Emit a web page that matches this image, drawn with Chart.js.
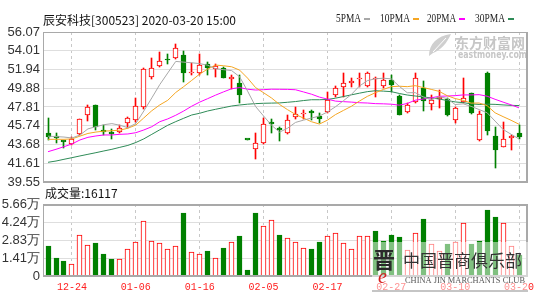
<!DOCTYPE html>
<html>
<head>
<meta charset="utf-8">
<script src="https://cdn.jsdelivr.net/npm/chart.js@4.4.1/dist/chart.umd.min.js"></script>
<style>
html,body{margin:0;padding:0;background:#fff;}
#wrap{position:relative;width:539px;height:303px;overflow:hidden;background:#fff;}
#wrap canvas{position:absolute;left:0;top:0;}
</style>
</head>
<body>
<div id="wrap">
<canvas id="priceCanvas" width="539" height="303"></canvas>
<canvas id="volCanvas" width="539" height="303"></canvas>
</div>
<script>
const titleText = '辰安科技[300523] 2020-03-20 15:00';
const dates = ['12-19','12-20','12-23','12-24','12-25','12-26','12-27','12-30','12-31','01-02','01-03','01-06','01-07','01-08','01-09','01-10','01-13','01-14','01-15','01-16','01-17','01-20','01-21','01-22','01-23','02-03','02-04','02-05','02-06','02-07','02-10','02-11','02-12','02-13','02-14','02-17','02-18','02-19','02-20','02-21','02-24','02-25','02-26','02-27','02-28','03-02','03-03','03-04','03-05','03-06','03-09','03-10','03-11','03-12','03-13','03-16','03-17','03-18','03-19','03-20'];
const opens  = [45.00,44.60,44.05,43.74,44.84,46.93,48.05,45.20,44.98,45.09,46.09,46.38,47.78,51.15,52.33,53.05,53.17,53.54,51.52,51.52,52.55,51.96,52.07,50.85,50.42,44.22,43.15,43.81,46.10,45.45,44.91,46.67,47.00,47.40,46.82,47.30,49.13,49.98,50.48,50.86,50.12,50.85,50.12,50.78,49.00,47.29,48.40,49.87,48.14,48.70,48.69,46.38,48.40,49.31,44.18,51.59,44.62,43.44,44.40,44.91];
const highs  = [46.62,44.91,44.08,44.47,46.52,48.03,48.08,45.83,45.35,45.83,46.74,48.77,52.07,53.17,53.90,53.70,54.75,54.01,52.62,53.61,52.80,52.55,52.25,51.33,51.33,44.22,44.98,46.57,46.46,45.64,46.93,47.85,47.48,47.48,47.12,49.50,50.12,51.52,50.97,51.52,51.70,51.15,51.59,51.33,49.10,48.22,51.52,50.71,49.13,49.68,48.77,47.85,50.97,49.39,47.40,51.70,45.64,46.19,44.73,45.83];
const lows   = [44.18,43.81,43.30,43.63,44.73,46.30,45.30,44.73,44.29,44.98,45.47,46.19,47.56,50.86,52.25,52.50,53.10,50.60,51.33,51.33,51.33,51.15,50.97,49.76,48.28,44.22,42.05,43.74,44.90,44.10,44.84,46.46,46.46,46.38,46.09,47.12,48.95,48.95,50.05,50.05,50.05,48.95,49.87,49.50,46.90,47.18,48.22,47.40,47.48,47.67,46.82,46.09,48.22,47.04,44.10,44.73,41.06,43.37,43.07,44.25];
const closes = [44.47,44.45,43.97,44.25,46.46,47.85,45.65,45.10,44.85,45.53,46.57,47.92,51.96,52.07,52.88,52.95,54.27,51.59,51.70,52.44,52.07,52.33,51.05,51.10,49.13,44.22,43.80,45.91,45.95,45.30,46.38,47.00,47.15,47.10,46.46,48.58,49.87,50.49,50.55,51.04,51.59,50.92,50.78,50.23,46.95,48.03,50.97,48.45,48.55,48.80,46.93,47.67,48.84,47.18,47.04,45.17,43.07,44.25,44.50,44.47];
const prevClose0 = 45.00;
const volumes = [23250,14500,11400,9300,32300,24000,25800,17600,13700,13200,21500,26600,43400,27900,25800,20900,23250,49400,18600,17600,19400,14500,21700,26400,31200,4650,49800,39500,43900,32300,29700,27100,22200,20900,26400,31200,33900,25800,21500,31200,31200,35700,27900,32300,30500,20700,33900,45200,24800,19400,24800,27100,41600,24800,27900,52200,46000,41600,23250,16117];
const ma5  = [44.60,44.55,44.50,44.40,44.72,45.40,45.64,45.86,45.98,45.80,45.54,45.99,47.37,48.81,50.28,51.56,52.83,52.75,52.68,52.59,52.41,52.03,51.92,51.82,51.14,49.56,47.86,46.82,45.80,45.04,45.47,46.11,46.36,46.59,46.82,47.26,47.83,48.50,49.19,50.11,50.71,50.92,50.98,50.91,50.09,49.38,49.39,48.93,48.59,48.96,48.74,48.08,48.16,47.88,47.53,47.18,46.26,45.34,44.81,44.29];
const ma10 = [44.25,44.25,44.25,44.30,44.60,44.90,45.05,45.15,45.20,45.26,45.47,45.82,46.61,47.40,48.04,48.55,49.41,50.06,50.74,51.44,51.99,52.43,52.35,52.24,51.87,50.99,49.95,49.38,48.80,48.09,47.52,46.99,46.59,46.19,45.93,46.36,46.97,47.43,47.89,48.46,48.98,49.38,49.74,50.05,50.10,50.05,50.16,49.95,49.75,49.53,49.06,48.74,48.54,48.24,48.25,47.96,47.17,46.75,46.35,45.91];
const ma20 = [42.89,43.15,43.44,43.74,44.18,44.47,44.62,44.73,44.73,44.80,44.84,44.98,45.28,45.64,46.19,46.50,46.90,47.37,47.90,48.35,48.73,49.12,49.48,49.82,49.95,49.77,49.68,49.72,49.77,49.76,49.75,49.71,49.47,49.22,48.90,48.68,48.46,48.40,48.35,48.28,48.25,48.18,48.16,48.12,48.01,48.20,48.56,48.69,48.82,48.99,49.02,49.06,49.14,49.14,49.17,49.00,48.66,48.35,48.05,47.72];
const ma30 = [41.72,41.86,42.05,42.23,42.42,42.60,42.78,42.97,43.15,43.37,43.58,43.90,44.30,44.80,45.30,45.80,46.20,46.57,46.93,47.12,47.37,47.56,47.74,47.92,48.03,48.12,48.18,48.22,48.24,48.26,48.33,48.41,48.52,48.61,48.61,48.64,48.78,48.96,49.15,49.33,49.50,49.60,49.56,49.50,49.30,49.13,49.02,48.92,48.81,48.69,48.52,48.37,48.29,48.16,48.09,48.12,48.10,48.04,47.99,47.97];
const maNames = ['5PMA','10PMA','20PMA','30PMA'];
const priceTicks = [39.55,41.61,43.68,45.74,47.81,49.88,51.94,54.01,56.07];
const volTicks = [0,14150,28300,42450,56600];
const volTickLabels = ['0','1.41万','2.83万','4.24万','5.66万'];
const xTickLabels = ['12-24','01-06','01-16','02-05','02-17','02-27','03-10','03-20'];
const volLabel = '成交量';
const wmTop = ['东方财富网','eastmoney.com'];
const wmBottom = ['中国晋商俱乐部','CHINA JIN MARCHANTS CLUB'];

// ---------- rendering ----------
const RED = '#ff0000', GREEN = '#008000';
const maColors = ['#a8a8a8','#f5a623','#ff00ff','#2e8b57'];
const up = closes.map((c,i)=> c>opens[i] ? true : (c<opens[i] ? false : c >= (i ? closes[i-1] : prevClose0)));
const volUp = closes.map((c,i)=> c > (i ? closes[i-1] : prevClose0));
const xTickIdx = xTickLabels.map(l=>dates.indexOf(l));
const pts = arr => arr.map((v,i)=>({x:i,y:v}));

function xAxis(showLabels, h){
  return {
    type:'linear', min:-0.63, max:60.0, offset:false,
    afterBuildTicks: s => { s.ticks = xTickIdx.map(v=>({value:v})); },
    afterFit: s => { s.height = h; s.paddingLeft = 0; s.paddingRight = 0; },
    grid:{color:'#c8c8c8', drawTicks:false, offset:false, lineWidth:1},
    border:{display:false, dash:[3,3]},
    ticks:{display:showLabels, autoSkip:false, maxRotation:0, minRotation:0, padding:5,
      color:'#ff2020', font:{family:'Liberation Mono', size:10},
      callback: v => dates[Math.round(v)] || ''}
  };
}
function yAxis(ticksArr, fmt){
  return {
    type:'linear', min:ticksArr[0], max:ticksArr[ticksArr.length-1],
    afterBuildTicks: s => { s.ticks = ticksArr.map(v=>({value:v})); },
    afterFit: s => { s.width = 43; s.paddingTop = 0; s.paddingBottom = 0; },
    grid:{color:'#dedede', drawTicks:false},
    border:{display:false},
    ticks:{autoSkip:false, padding:3, color:'#333', font:{family:'Liberation Sans', size:13}, callback: fmt}
  };
}

// snap bar elements to the pixel grid so 1px borders stay crisp
const snapBars = {
  id:'snapBars',
  beforeDatasetsDraw(chart){
    chart.data.datasets.forEach((ds,di)=>{
      const meta = chart.getDatasetMeta(di);
      if (meta.type !== 'bar') return;
      meta.data.forEach(el=>{
        el.x = Math.floor(el.x) + 0.5;
        el.y = Math.round(el.y);
        el.base = Math.round(el.base);
        if (ds.minBarLength && el.y === el.base) el.base += 1;
      });
    });
  }
};

function frame(ctx, ca, topW, botW){
  ctx.save();
  ctx.strokeStyle = '#a9a9a9';
  ctx.lineWidth = 1;
  ctx.beginPath();
  ctx.moveTo(ca.left+0.5, ca.top); ctx.lineTo(ca.left+0.5, ca.bottom);
  ctx.stroke();
  ctx.lineWidth = topW;
  ctx.beginPath(); ctx.moveTo(ca.left, ca.top+topW/2); ctx.lineTo(ca.right+1, ca.top+topW/2); ctx.stroke();
  ctx.lineWidth = botW;
  ctx.beginPath(); ctx.moveTo(ca.left, ca.bottom); ctx.lineTo(ca.right+1, ca.bottom); ctx.stroke();
  ctx.lineWidth = 2;
  ctx.beginPath(); ctx.moveTo(ca.right, ca.top); ctx.lineTo(ca.right, ca.bottom+1); ctx.stroke();
  ctx.restore();
}

const priceDeco = {
  id:'priceDeco',
  beforeDatasetsDraw(chart){
    const ctx = chart.ctx; ctx.save();
    ctx.fillStyle = '#cfcfcf';
    ctx.beginPath();
    ctx.moveTo(429,56); ctx.bezierCurveTo(429,44,437,36,451,34); ctx.bezierCurveTo(447,43,441,50,433,53);
    ctx.lineTo(429,56); ctx.fill();
    ctx.strokeStyle = '#fff'; ctx.lineWidth = 1;
    ctx.beginPath(); ctx.moveTo(433,52); ctx.lineTo(446,38); ctx.stroke();
    ctx.fillStyle = '#c6c6c6';
    ctx.textBaseline = 'middle'; ctx.textAlign = 'left';
    ctx.font = 'bold 14px "Noto Sans CJK SC"';
    ctx.fillText(wmTop[0], 455, 43, 72);
    ctx.font = 'bold 10px "DejaVu Sans"';
    ctx.fillText(wmTop[1], 458, 55, 69);
    ctx.restore();
  },
  afterDraw(chart){
    const ctx = chart.ctx, ca = chart.chartArea;
    frame(ctx, ca, 1, 2);
    ctx.save();
    ctx.textBaseline = 'middle'; ctx.textAlign = 'left';
    ctx.fillStyle = '#111';
    ctx.font = '12px "Noto Sans CJK SC"';
    ctx.fillText(titleText, 43, 20, 206);
    const lx = [336,380,427,475], lw = [25,30,29,30];
    ctx.font = '12px "Liberation Serif"';
    maNames.forEach((n,i)=>{
      ctx.fillStyle = '#222';
      ctx.fillText(n, lx[i], 19, lw[i]);
      ctx.fillStyle = maColors[i];
      ctx.fillRect(lx[i]+lw[i]+3, 18, 6, 2);
    });
    ctx.restore();
  }
};

const volDeco = {
  id:'volDeco',
  afterDraw(chart){
    const ctx = chart.ctx, ca = chart.chartArea;
    frame(ctx, ca, 2, 2);
    ctx.save();
    ctx.textBaseline = 'middle'; ctx.textAlign = 'left';
    ctx.fillStyle = '#111';
    ctx.font = '12px "Noto Sans CJK SC"';
    ctx.fillText(volLabel + ':' + volumes[volumes.length-1], 45, 193);
    // bottom-right watermark
    ctx.fillStyle = 'rgba(255,255,255,0.5)';
    ctx.fillRect(372, 242, 156, 48);
    ctx.fillStyle = 'rgba(150,150,150,0.55)';
    ctx.fillRect(372, 290, 156, 2);
    ctx.fillStyle = '#2a2a2a';
    ctx.font = 'bold 22px "Noto Sans CJK SC"';
    ctx.fillText('晋', 373, 260);
    ctx.fillStyle = '#d62020';
    ctx.font = 'italic 20px "Liberation Serif"';
    ctx.fillText('e', 378, 278);
    ctx.fillStyle = '#333';
    ctx.font = '17px "Noto Sans CJK SC"';
    ctx.fillText(wmBottom[0], 403, 261, 122);
    ctx.fillStyle = '#555';
    ctx.font = '9px "Liberation Serif"';
    ctx.fillText(wmBottom[1], 405, 281, 120);
    ctx.restore();
  }
};

const common = {responsive:false, devicePixelRatio:1, animation:false, events:[],
  plugins:{legend:{display:false}, tooltip:{enabled:false}, title:{display:false}}};

new Chart(document.getElementById('priceCanvas'), {
  type:'bar',
  data:{datasets:[
    ...[ma5,ma10,ma20,ma30].map((m,k)=>({type:'line', data:pts(m), borderColor:maColors[k], borderWidth:1, pointRadius:0, fill:false, tension:0, order:k})),
    {type:'bar', data:opens.map((o,i)=>({x:i,y:[o,closes[i]]})), grouped:false, barThickness:5, minBarLength:1.5,
      backgroundColor: up.map(u=>u?'#ffffff':GREEN), borderColor: up.map(u=>u?RED:GREEN), borderWidth:1, borderSkipped:false, order:10},
    {type:'bar', data:lows.map((l,i)=>({x:i,y:[l,highs[i]]})), grouped:false, barThickness:1,
      backgroundColor: up.map(u=>u?RED:GREEN), borderWidth:0, order:11}
  ]},
  options:{...common,
    layout:{padding:{left:0,right:12,top:32,bottom:0}},
    scales:{x:xAxis(false, 121), y:yAxis(priceTicks, v=>Number(v).toFixed(2))}
  },
  plugins:[snapBars, priceDeco]
});

new Chart(document.getElementById('volCanvas'), {
  type:'bar',
  data:{datasets:[
    {data:volumes.map((v,i)=>({x:i,y:v})), grouped:false, barThickness:5,
      backgroundColor: volUp.map(u=>u?'#ffffff':GREEN), borderColor: volUp.map(u=>u?RED:GREEN), borderWidth:1, borderSkipped:false}
  ]},
  options:{...common,
    layout:{padding:{left:0,right:12,top:204,bottom:0}},
    scales:{x:xAxis(true, 27), y:yAxis(volTicks, (v,i)=>volTickLabels[i])}
  },
  plugins:[snapBars, volDeco]
});
</script>
</body>
</html>
